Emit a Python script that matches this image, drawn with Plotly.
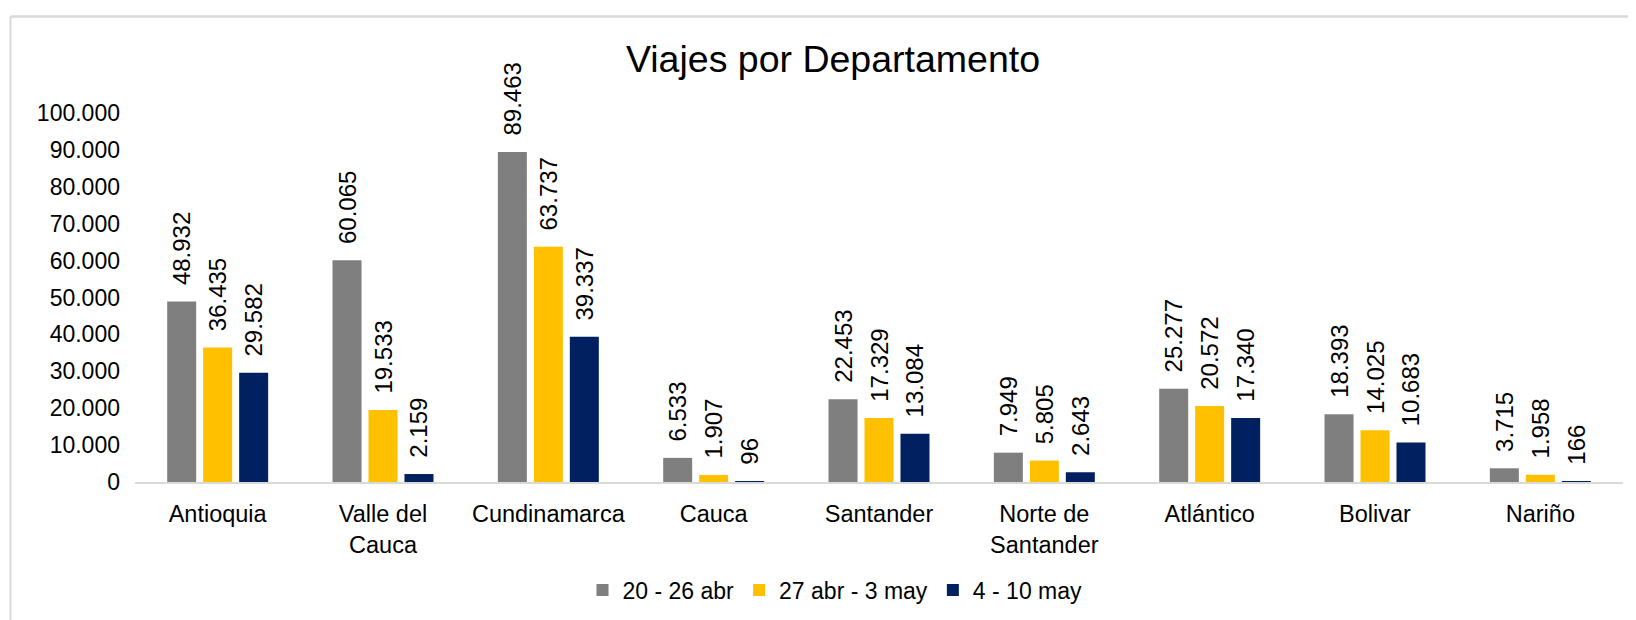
import plotly.graph_objects as go

categories = ["Antioquia", "Valle del<br>Cauca", "Cundinamarca", "Cauca", "Santander",
              "Norte de<br>Santander", "Atlántico", "Bolivar", "Nariño"]
series_names = ["20 - 26 abr", "27 abr - 3 may", "4 - 10 may"]
week1 = [48932, 60065, 89463, 6533, 22453, 7949, 25277, 18393, 3715]
week2 = [36435, 19533, 63737, 1907, 17329, 5805, 20572, 14025, 1958]
week3 = [29582, 2159, 39337, 96, 13084, 2643, 17340, 10683, 166]
colors = ["#7F7F7F", "#FFC000", "#002060"]
y_ticks = [0, 10000, 20000, 30000, 40000, 50000, 60000, 70000, 80000, 90000, 100000]

W, H = 1636, 620
OFF = 8  # page body margin offset
L, R, T, B = 135 - OFF, 21, 113 - OFF, 146
FONT = "Liberation Sans, Arial, sans-serif"

fig = go.Figure()
for name, vals, col in zip(series_names, [week1, week2, week3], colors):
    fig.add_trace(go.Bar(
        x=categories, y=vals, name=name,
        marker=dict(color=col, line=dict(width=0)),
        texttemplate="\u00a0\u00a0%{y:,}",
        textposition="outside", textangle=-90,
        textfont=dict(size=24, color="#000000", family=FONT),
        constraintext="none", cliponaxis=False,
    ))

pw = W - L - R
ph = H - T - B
def px_x(px):
    return (px - OFF - L) / pw
def px_y(py):
    return (H - B - (py - OFF)) / ph

border = "#D9D9D9"
shapes = [
    dict(type="line", xref="paper", yref="paper", x0=px_x(10.5), x1=px_x(W + 20),
         y0=px_y(16.5), y1=px_y(16.5), line=dict(color=border, width=2.5)),
    dict(type="line", xref="paper", yref="paper", x0=px_x(10.5), x1=px_x(10.5),
         y0=px_y(16.5), y1=px_y(H + 20), line=dict(color=border, width=2)),
]

fig.update_layout(
    width=W, height=H,
    margin=dict(l=L, r=R, t=T, b=B, autoexpand=False),
    paper_bgcolor="white", plot_bgcolor="white",
    font=dict(family=FONT, color="#000000", size=23),
    separators=",.",
    barmode="group", bargap=0.347, bargroupgap=0.194,
    title=dict(text="Viajes por Departamento", x=(833 - OFF) / W, xref="container", xanchor="center",
               y=1 - (59 - OFF) / H, yref="container", yanchor="middle",
               font=dict(size=37.5, family=FONT, color="#000000")),
    legend=dict(orientation="h", x=(835 - OFF) / W, xref="container", xanchor="center",
                y=1 - (590 - OFF) / H, yref="container", yanchor="middle",
                font=dict(size=23, family=FONT, color="#000000"),
                itemwidth=30, bgcolor="rgba(0,0,0,0)"),
    shapes=shapes,
)
fig.update_xaxes(showline=True, linecolor=border, linewidth=1.5, showgrid=False,
                 ticks="", ticklabelstandoff=10, tickfont=dict(size=23.5, family=FONT, color="#000000"),
                 automargin=False, fixedrange=True)
fig.update_yaxes(range=[0, 100000], tickvals=y_ticks, tickformat=",", showgrid=False,
                 zeroline=False, showline=False, ticks="", ticklabelstandoff=14,
                 tickfont=dict(size=23, family=FONT, color="#000000"),
                 automargin=False, fixedrange=True)

fig.write_html("out.html")
